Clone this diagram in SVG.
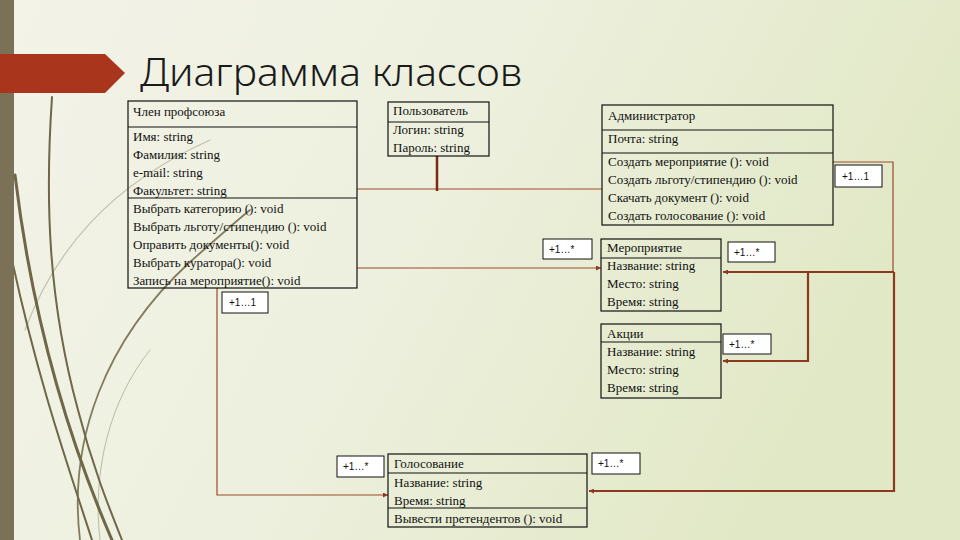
<svg xmlns="http://www.w3.org/2000/svg" width="960" height="540" viewBox="0 0 960 540">
<defs>
<linearGradient id="bg" x1="0" y1="0" x2="1" y2="0.3">
<stop offset="0" stop-color="#f3f3e8"/>
<stop offset="0.5" stop-color="#edf0de"/>
<stop offset="1" stop-color="#e1e8c5"/>
</linearGradient>
<marker id="ah" viewBox="0 0 6 6" refX="6" refY="3" markerWidth="5" markerHeight="5" orient="auto" markerUnits="userSpaceOnUse">
<path d="M0,0 L6,3 L0,6 z" fill="#8b3a22"/>
</marker>
<style>
.box{fill:none;stroke:#111;stroke-width:1.2}
.sep{stroke:#111;stroke-width:1.2}
.t{font-family:"Liberation Serif","Times New Roman",serif;font-size:13px;fill:#111}
.lb{fill:#fff;stroke:#111;stroke-width:1}
.lt{font-family:"Liberation Sans",Arial,sans-serif;font-size:10px;fill:#111}
.thin{fill:none;stroke:#9c4a2c;stroke-width:1.2}
.thick{fill:none;stroke:#8b3a1e;stroke-width:2.2}
.grass{fill:none;stroke:#6e6748;stroke-linecap:round}
</style>
</defs>
<rect width="960" height="540" fill="url(#bg)"/>
<g id="decor">
<path class="grass" d="M52,97 C45,200 48,300 78,410 C92,465 108,505 122,540" stroke-width="2"/>
<path class="grass" d="M15,175 C30,300 60,420 112,540" stroke-width="3"/>
<path class="grass" d="M12,260 C38,380 66,460 92,540" stroke-width="2"/>
<path class="grass" d="M80,540 C68,440 105,340 190,262 C215,240 235,222 250,210" stroke-width="1.8" opacity="0.85"/>
<path class="grass" d="M25,330 C55,250 110,185 210,140" stroke-width="1.2" opacity="0.35"/>
<path class="grass" d="M100,540 C92,470 110,400 150,350" stroke-width="1" opacity="0.4"/>
<rect x="0" y="0" width="14" height="540" fill="#7a7157"/>
<polygon points="0,54 105,54 125,73 105,93 0,93" fill="#a9351d"/>
<text x="140" y="86" font-family="'Noto Sans','DejaVu Sans',sans-serif" font-weight="300" font-size="39" fill="#1a1a1a" textLength="382" lengthAdjust="spacingAndGlyphs">Диаграмма классов</text>
</g>
<g id="connectors">
<line class="thin" x1="357" y1="189" x2="602" y2="189"/>
<line x1="437" y1="156" x2="437" y2="191" stroke="#7a2a15" stroke-width="2.5"/>
<line class="thin" x1="357" y1="268" x2="601" y2="268" marker-end="url(#ah)"/>
<polyline class="thin" points="217,288 217,495 388,495" marker-end="url(#ah)"/>
<polyline class="thin" points="833,162 893,162 893,272" stroke="#c07050"/>
<polyline class="thick" points="894,272 808,272 723,272" marker-end="url(#ah)"/>
<polyline class="thick" points="808,272 808,361 723,361" marker-end="url(#ah)"/>
<polyline class="thick" points="894,272 894,491 589,491" marker-end="url(#ah)"/>
</g>
<g id="chlen">
<rect class="box" x="128" y="101" width="229" height="187"/>
<line class="sep" x1="128" y1="127" x2="357" y2="127"/>
<line class="sep" x1="128" y1="198" x2="357" y2="198"/>
<text class="t" x="133" y="116">Член профсоюза</text>
<text class="t" x="133" y="141">Имя: string</text>
<text class="t" x="133" y="159">Фамилия: string</text>
<text class="t" x="133" y="177">e-mail: string</text>
<text class="t" x="133" y="195">Факультет: string</text>
<text class="t" x="133" y="213">Выбрать категорию (): void</text>
<text class="t" x="133" y="231">Выбрать льготу/стипендию (): void</text>
<text class="t" x="133" y="249">Оправить документы(): void</text>
<text class="t" x="133" y="267">Выбрать куратора(): void</text>
<text class="t" x="133" y="285">Запись на мероприятие(): void</text>
</g>
<g id="polzovatel">
<rect class="box" x="388" y="102" width="101" height="54"/>
<line class="sep" x1="388" y1="122" x2="489" y2="122"/>
<text class="t" x="393" y="115">Пользователь</text>
<text class="t" x="393" y="134">Логин: string</text>
<text class="t" x="393" y="152">Пароль: string</text>
</g>
<g id="admin">
<rect class="box" x="602" y="105" width="231" height="120"/>
<line class="sep" x1="602" y1="130" x2="833" y2="130"/>
<line class="sep" x1="602" y1="153" x2="833" y2="153"/>
<text class="t" x="608" y="120">Администратор</text>
<text class="t" x="608" y="143">Почта: string</text>
<text class="t" x="608" y="166">Создать мероприятие (): void</text>
<text class="t" x="608" y="184">Создать льготу/стипендию (): void</text>
<text class="t" x="608" y="202">Скачать документ (): void</text>
<text class="t" x="608" y="220">Создать голосование (): void</text>
</g>
<g id="meropriyatie">
<rect class="box" x="601" y="239" width="120" height="72"/>
<line class="sep" x1="601" y1="258" x2="721" y2="258"/>
<text class="t" x="607" y="252">Мероприятие</text>
<text class="t" x="607" y="270">Название: string</text>
<text class="t" x="607" y="288">Место: string</text>
<text class="t" x="607" y="306">Время: string</text>
</g>
<g id="akcii">
<rect class="box" x="601" y="324" width="120" height="74"/>
<line class="sep" x1="601" y1="342" x2="721" y2="342"/>
<text class="t" x="607" y="338">Акции</text>
<text class="t" x="607" y="356">Название: string</text>
<text class="t" x="607" y="374">Место: string</text>
<text class="t" x="607" y="392">Время: string</text>
</g>
<g id="golosovanie">
<rect class="box" x="388" y="454" width="199" height="73"/>
<line class="sep" x1="388" y1="473" x2="587" y2="473"/>
<line class="sep" x1="388" y1="508" x2="587" y2="508"/>
<text class="t" x="394" y="468">Голосование</text>
<text class="t" x="394" y="487">Название: string</text>
<text class="t" x="394" y="505">Время: string</text>
<text class="t" x="394" y="523">Вывести претендентов (): void</text>
</g>
<g id="labels">
<rect class="lb" x="835" y="165" width="47" height="22"/><text class="lt" x="842" y="180">+1…1</text>
<rect class="lb" x="543" y="239" width="49" height="20"/><text class="lt" x="549" y="253">+1…*</text>
<rect class="lb" x="728" y="242" width="47" height="20"/><text class="lt" x="734" y="256">+1…*</text>
<rect class="lb" x="723" y="334" width="48" height="20"/><text class="lt" x="729" y="348">+1…*</text>
<rect class="lb" x="222" y="292" width="46" height="21"/><text class="lt" x="229" y="306">+1…1</text>
<rect class="lb" x="337" y="456" width="47" height="21"/><text class="lt" x="343" y="470">+1…*</text>
<rect class="lb" x="592" y="453" width="48" height="21"/><text class="lt" x="598" y="467">+1…*</text>
</g>
</svg>
